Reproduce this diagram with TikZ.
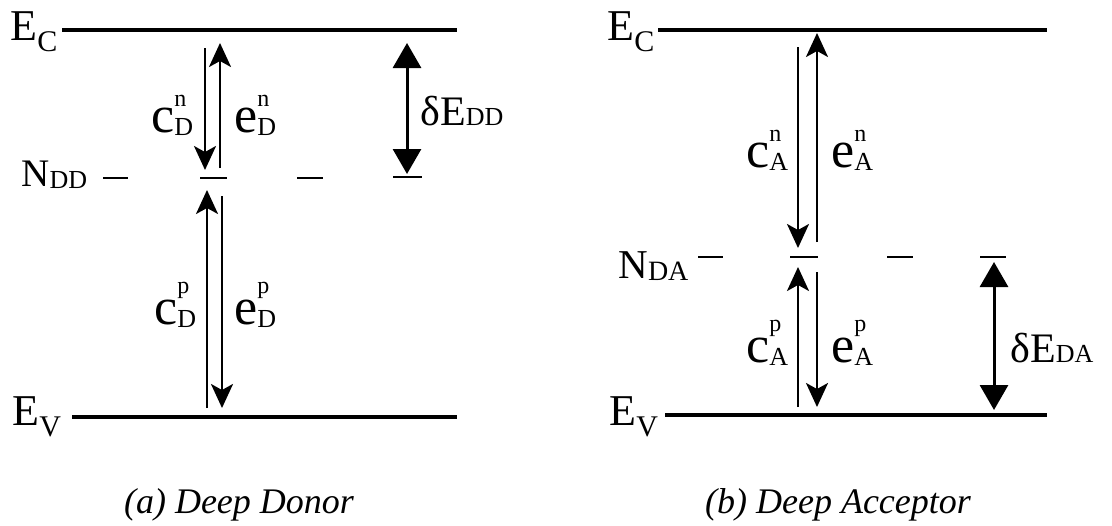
\documentclass[tikz,border=0pt]{standalone}
\usepackage{fontspec}
\setmainfont{Liberation Serif}
\usetikzlibrary{arrows.meta}

\newcommand{\band}[2]{{\fontsize{22}{22}\selectfont #1}\raisebox{-5.5pt}{\fontsize{15}{15}\selectfont #2}}
\newcommand{\trap}[3]{{\fontsize{#3}{#3}\selectfont N}\raisebox{-1pt}{\fontsize{#2}{#2}\selectfont #1}}
\newcommand{\gapname}[1]{{\fontsize{21}{21}\selectfont δE}{\fontsize{13}{13}\selectfont #1}}
\newcommand{\rate}[3]{{\fontsize{26}{26}\selectfont #1}\raisebox{-1.5pt}{\shortstack[l]{{\fontsize{12}{8}\selectfont #2}\\[2.5pt]{\fontsize{13}{13}\selectfont #3}}}}

\begin{document}
\begin{tikzpicture}[x=0.5pt,y=-0.5pt,
    level/.style={line width=2pt},
    trapline/.style={line width=1.3pt},
    lbl/.style={anchor=base west,inner sep=0pt},
    rateline/.style={line width=1.2pt,-{Stealth[length=12pt,width=11pt,inset=3pt]}},
    gapline/.style={line width=1.5pt,{Triangle[length=12.5pt,width=14pt]}-{Triangle[length=12.5pt,width=14pt]}},
    caption/.style={anchor=base,inner sep=0pt,font=\fontsize{18}{18}\selectfont\itshape}]
    \useasboundingbox (0,0) rectangle (1112,525);

    % (a) deep donor
    \node[lbl] (ECa) at (10,40) {\band{E}{C}};
    \node[lbl] (EVa) at (12,425) {\band{E}{V}};
    \node[lbl] (NDD) at (21,186) {\trap{DD}{13}{19.5}};
    \draw[level] (62,30) coordinate (ECa0) -- (457,30) coordinate (ECa1);
    \draw[level] (72,417) coordinate (EVa0) -- (457,417) coordinate (EVa1);
    \draw[trapline] (103,178) -- (128,178);
    \draw[trapline] (200,178) -- (227,178);
    \draw[trapline] (297,178) -- (323,178);
    \draw[trapline] (393,177) -- (422,177);
    \draw[rateline] (205,48) -- (205,170);
    \draw[rateline] (220,168) -- (220,43);
    \draw[rateline] (207,408) -- (207,190);
    \draw[rateline] (222,196) -- (222,408);
    \draw[gapline] (407,43) -- (407,174);
    \node[lbl] (cnD) at (151,132) {\rate{c}{n}{D}};
    \node[lbl] (enD) at (234,132) {\rate{e}{n}{D}};
    \node[lbl] (cpD) at (154,324) {\rate{c}{p}{D}};
    \node[lbl] (epD) at (234,324) {\rate{e}{p}{D}};
    \node[lbl] (dEDD) at (420,125) {\gapname{DD}};
    \node[caption] (capa) at (239,513) {(a) Deep Donor};

    % (b) deep acceptor
    \node[lbl] (ECb) at (607,40) {\band{E}{C}};
    \node[lbl] (EVb) at (609,425) {\band{E}{V}};
    \node[lbl] (NDA) at (618,278) {\trap{DA}{14}{20.5}};
    \draw[level] (658,30) coordinate (ECb0) -- (1047,30) coordinate (ECb1);
    \draw[level] (665,415) coordinate (EVb0) -- (1047,415) coordinate (EVb1);
    \draw[trapline] (698,257) -- (723,257);
    \draw[trapline] (790,257) -- (818,257);
    \draw[trapline] (887,257) -- (913,257);
    \draw[trapline] (980,257) -- (1006,257);
    \draw[rateline] (798,47) -- (798,248);
    \draw[rateline] (817,242) -- (817,33);
    \draw[rateline] (798,407) -- (798,267);
    \draw[rateline] (817,272) -- (817,407);
    \draw[gapline] (994,262) -- (994,410);
    \node[lbl] (cnA) at (746,167) {\rate{c}{n}{A}};
    \node[lbl] (enA) at (831,167) {\rate{e}{n}{A}};
    \node[lbl] (cpA) at (746,362) {\rate{c}{p}{A}};
    \node[lbl] (epA) at (831,362) {\rate{e}{p}{A}};
    \node[lbl] (dEDA) at (1010,362) {\gapname{DA}};
    \node[caption] (capb) at (838,513) {(b) Deep Acceptor};
\end{tikzpicture}
\end{document}
